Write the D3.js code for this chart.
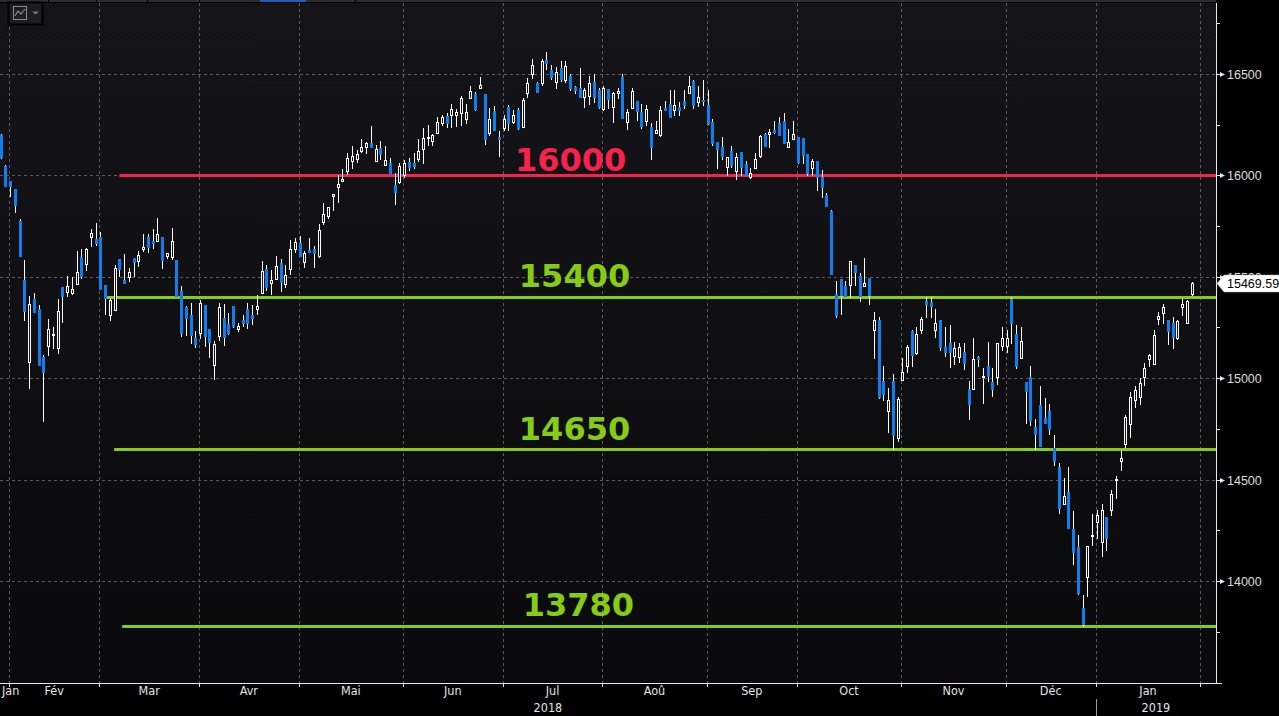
<!DOCTYPE html>
<html>
<head>
<meta charset="utf-8">
<script src="https://cdn.jsdelivr.net/npm/d3@7"></script>
<style>
  html, body { margin: 0; padding: 0; background: #000; overflow: hidden; }
  svg { display: block; }
</style>
</head>
<body>
<svg id="chart" width="1279" height="716"></svg>
<script>
// daily candles, 30 jan 2018 -> 30 jan 2019
const opens = [
  16199,16046,15974,15933,15775,15484,15082,15391,15342,15105,
  15160,15214,15148,15448,15427,15422,15466,15598,15565,15698,
  15686,15696,15460,15312,15336,15589,15484,15499,15594,15579,
  15637,15696,15678,15678,15696,15601,15599,15583,15430,15353,
  15312,15197,15224,15361,15243,15065,15208,15296,15266,15356,
  15244,15287,15340,15312,15342,15419,15539,15471,15488,15567,
  15463,15540,15639,15665,15575,15632,15635,15604,15772,15800,
  15900,15944,15974,16021,16072,16082,16122,16141,16160,16072,
  16137,16051,16060,15953,15969,16000,16065,16063,16082,16132,
  16185,16171,16207,16260,16293,16296,16300,16306,16279,16380,
  16401,16430,16401,16208,16317,16188,16232,16336,16265,16322,
  16240,16408,16500,16457,16454,16569,16520,16459,16528,16470,
  16490,16437,16429,16388,16392,16459,16421,16326,16424,16339,
  16405,16484,16262,16331,16367,16314,16270,16237,16207,16200,
  16334,16352,16322,16336,16367,16405,16465,16363,16372,16347,
  16265,16166,16138,16043,16122,16023,16117,16056,15990,16035,
  16096,16204,16204,16224,16257,16268,16141,16178,16188,16183,
  16105,16038,16071,15994,15903,15824,15414,15489,15455,15460,
  15558,15504,15456,15496,15237,15287,14986,14840,14986,14704,
  14991,15062,15233,15123,15238,15380,15375,15238,15287,15153,
  15172,15110,15103,15131,14946,14946,15106,15005,15060,14980,
  15008,15160,15158,15390,15218,15098,14980,15005,14758,14870,
  14805,14838,14655,14561,14378,14438,14255,14167,13865,14021,
  14220,14293,14194,14314,14350,14500,14593,14675,14774,14890,
  14906,15008,15093,15069,15290,15320,15287,15274,15200,15350,
  15274,15415
]
const highs = [
  16205,16051,15974,15933,15785,15583,15405,15420,15361,15115,
  15293,15254,15391,15448,15504,15499,15627,15637,15644,15737,
  15767,15722,15460,15397,15558,15589,15613,15542,15594,15627,
  15711,15711,15736,15790,15696,15618,15741,15583,15455,15356,
  15371,15232,15386,15361,15243,15184,15372,15366,15320,15356,
  15273,15310,15369,15361,15411,15578,15558,15534,15604,15588,
  15558,15680,15690,15700,15629,15690,15652,15760,15865,15843,
  15907,16000,16030,16110,16144,16125,16180,16165,16242,16149,
  16170,16146,16084,16010,16060,16075,16088,16110,16180,16233,
  16250,16203,16290,16300,16310,16350,16325,16390,16350,16440,
  16410,16485,16401,16330,16340,16220,16300,16345,16320,16330,
  16380,16480,16573,16460,16573,16608,16545,16536,16565,16565,
  16500,16440,16530,16430,16490,16500,16430,16440,16424,16413,
  16430,16500,16326,16430,16367,16350,16345,16257,16270,16340,
  16365,16420,16420,16360,16420,16490,16470,16440,16470,16420,
  16280,16166,16190,16092,16145,16110,16117,16070,16035,16110,
  16200,16210,16230,16270,16290,16310,16230,16270,16188,16183,
  16105,16080,16071,16027,15913,15830,15480,15489,15480,15578,
  15560,15519,15592,15496,15328,15300,15060,14952,15020,14905,
  15100,15165,15240,15250,15300,15400,15400,15340,15287,15250,
  15260,15180,15175,15175,14985,15200,15110,15050,15180,15050,
  15175,15250,15240,15400,15260,15250,14980,15060,14800,14960,
  14900,14873,14720,14580,14510,14560,14345,14227,13930,14172,
  14331,14350,14380,14314,14448,14520,14640,14820,14930,14960,
  15000,15076,15120,15237,15325,15366,15287,15300,15285,15390,
  15385,15475
]
const lows = [
  16085,15949,15900,15821,15604,15287,14952,15328,15065,14790,
  15115,15150,15126,15279,15405,15415,15466,15496,15534,15653,
  15657,15441,15317,15287,15336,15505,15470,15479,15505,15553,
  15627,15624,15644,15678,15545,15594,15586,15407,15209,15213,
  15175,15155,15200,15160,15106,14995,15189,15164,15218,15254,
  15234,15256,15249,15266,15315,15419,15435,15416,15488,15432,
  15450,15512,15620,15604,15550,15624,15550,15600,15760,15790,
  15830,15870,15974,16006,16036,16067,16116,16109,16141,16072,
  16082,16051,16010,15860,15960,15990,16025,16035,16070,16060,
  16150,16150,16207,16250,16240,16240,16245,16250,16260,16380,
  16320,16430,16155,16200,16224,16095,16224,16224,16260,16230,
  16238,16385,16479,16410,16447,16526,16477,16430,16464,16462,
  16420,16408,16385,16338,16350,16360,16330,16320,16331,16265,
  16380,16281,16230,16331,16275,16235,16250,16080,16207,16195,
  16322,16290,16300,16300,16330,16405,16331,16340,16348,16255,
  16150,16035,16080,16000,16040,15980,16000,16002,15985,16035,
  16090,16146,16140,16210,16199,16158,16141,16178,16060,16060,
  16000,16000,15928,15895,15851,15514,15300,15317,15405,15402,
  15460,15382,15456,15366,15100,14900,14890,14736,14650,14690,
  14991,15030,15060,15120,15225,15300,15300,15205,15140,15110,
  15054,15070,15080,15045,14800,14946,15060,14880,14985,14910,
  14970,15140,15130,15175,15050,15098,14780,14770,14650,14667,
  14781,14725,14570,14334,14378,14263,14083,13935,13780,13927,
  14178,14212,14125,14155,14325,14408,14545,14660,14710,14860,
  14875,14967,15060,15069,15265,15270,15168,15150,15195,15310,
  15270,15410
]
const closes = [
  16091,15949,15949,15854,15604,15333,15366,15328,15065,15031,
  15243,15218,15332,15407,15455,15440,15524,15504,15639,15717,
  15668,15441,15394,15386,15542,15540,15470,15525,15575,15608,
  15648,15648,15668,15710,15584,15618,15677,15407,15224,15298,
  15213,15169,15372,15210,15180,15167,15353,15205,15222,15258,
  15258,15271,15274,15296,15356,15527,15451,15484,15553,15476,
  15507,15636,15670,15604,15615,15624,15619,15731,15808,15843,
  15907,15958,15982,16084,16096,16105,16139,16158,16141,16129,
  16106,16076,16010,15920,16046,16062,16040,16046,16122,16183,
  16190,16198,16265,16286,16260,16326,16312,16380,16312,16417,
  16326,16444,16178,16277,16224,16178,16277,16260,16300,16235,
  16372,16454,16544,16413,16564,16556,16487,16511,16474,16539,
  16429,16421,16385,16421,16454,16388,16339,16429,16375,16408,
  16416,16281,16311,16416,16319,16244,16326,16141,16224,16322,
  16322,16290,16347,16322,16347,16440,16347,16388,16368,16260,
  16158,16129,16097,16092,16051,16092,16043,16002,16010,16079,
  16194,16146,16215,16215,16199,16158,16166,16204,16068,16100,
  16013,16071,15994,15944,15851,15514,15312,15410,15405,15578,
  15525,15405,15471,15410,15287,14909,14922,14892,14720,14898,
  15029,15153,15115,15217,15290,15366,15358,15274,15155,15131,
  15131,15148,15155,15073,14873,15094,15094,15011,15011,14945,
  15172,15197,15197,15274,15060,15184,14939,14794,14725,14667,
  14781,14750,14594,14362,14420,14263,14145,13940,13790,14172,
  14227,14326,14350,14214,14429,14505,14605,14810,14906,14942,
  14975,15049,15113,15213,15306,15352,15234,15205,15282,15366,
  15380,15469.59
]
const lastPrice = 15469.59

// month boundaries (candle index of first session) and labels
const monthStarts = [2, 21, 42, 63, 85, 106, 127, 149, 168, 190, 212, 231, 253]
const monthLabels = ['Jan', 'Fév', 'Mar', 'Avr', 'Mai', 'Jun', 'Jul', 'Aoû', 'Sep', 'Oct', 'Nov', 'Déc', 'Jan']
const yearLabels = ['2018', '2019']
const yearStarts = [0, 231]

// y axis
const majorTicks = [14000, 14500, 15000, 15500, 16000, 16500]
const minorTicks = [13750, 14250, 14750, 15250, 15750, 16250, 16750]

// horizontal levels drawn on the chart
const levelValues = [16000, 15400, 14650, 13780]
const levelFrom = [25, 21.8, 23.9, 25.6]      // candle index where each line begins
const levelLabelAt = [108.4, 109.2, 109.2, 110]

// styles
const levelColors = ['#f5224b', '#86cc14', '#86cc14', '#86cc14']
const levelLabelGap = [4, 10, 9, 10]
const upColor = '#ffffff'
const downColor = '#0f7ff0'
const gridColor = '#5c5c60'

const W = 1279, H = 716
const plotL = 0, plotR = 1216, plotT = 3, plotB = 683

const svg = d3.select('#chart')

const x = d3.scaleLinear()
  .domain([0, closes.length - 1])
  .range([0.7, 1191.7])

const y = d3.scaleLinear()
  .domain([13497, 16850])
  .range([plotB, plotT])

const crisp = v => Math.round(v) + 0.5

// backgrounds
svg.append('rect').attr('width', W).attr('height', H).attr('fill', '#000')

const defs = svg.append('defs')
const grad = defs.append('linearGradient')
  .attr('id', 'bg').attr('x1', 0).attr('y1', 0).attr('x2', 0).attr('y2', 1)
grad.append('stop').attr('offset', '0%').attr('stop-color', '#151519')
grad.append('stop').attr('offset', '100%').attr('stop-color', '#0a0a0d')

svg.append('rect')
  .attr('x', plotL).attr('y', plotT)
  .attr('width', plotR - plotL).attr('height', plotB - plotT)
  .attr('fill', 'url(#bg)')

// top strip with tabs
svg.append('rect').attr('x', 0).attr('y', 0).attr('width', plotR).attr('height', 2).attr('fill', '#2c2c31')
svg.append('rect').attr('x', 260).attr('y', 0).attr('width', 46).attr('height', 2).attr('fill', '#1c5fbf')
svg.selectAll('.tabsep')
  .data([48, 96, 147, 199, 355])
  .enter().append('rect')
  .attr('x', d => d).attr('y', 0).attr('width', 1).attr('height', 2).attr('fill', '#000')

// grid
const grid = svg.append('g')
grid.selectAll('.hgrid')
  .data(majorTicks)
  .enter().append('line')
  .attr('x1', plotL).attr('x2', plotR)
  .attr('y1', d => crisp(y(d))).attr('y2', d => crisp(y(d)))
  .attr('stroke', gridColor).attr('stroke-dasharray', '3,3')

grid.selectAll('.vgrid')
  .data(monthStarts)
  .enter().append('line')
  .attr('x1', d => crisp(x(d) - 1)).attr('x2', d => crisp(x(d) - 1))
  .attr('y1', plotT).attr('y2', plotB)
  .attr('stroke', gridColor).attr('stroke-dasharray', '3,3')

// level lines
levelValues.forEach((v, i) => {
  svg.append('line')
    .attr('x1', x(levelFrom[i])).attr('x2', plotR)
    .attr('y1', Math.round(y(v)) + 0.5).attr('y2', Math.round(y(v)) + 0.5)
    .attr('stroke', levelColors[i]).attr('stroke-width', 3)
})

// candles
const candles = svg.append('g')
closes.forEach((c, i) => {
  const o = opens[i]
  const r = Math.round(x(i))
  const up = c >= o
  candles.append('line')
    .attr('x1', r + 0.5).attr('x2', r + 0.5)
    .attr('y1', Math.round(y(highs[i]))).attr('y2', Math.round(y(lows[i])) + 1)
    .attr('stroke', '#fff').attr('stroke-width', 1)
  const top = Math.round(y(Math.max(o, c)))
  const bot = Math.round(y(Math.min(o, c)))
  if (up) {
    candles.append('rect')
      .attr('x', r - 0.5).attr('y', top + 0.5)
      .attr('width', 2).attr('height', Math.max(1, bot - top))
      .attr('fill', '#111115').attr('stroke', upColor).attr('stroke-width', 1)
  } else {
    candles.append('rect')
      .attr('x', r - 1).attr('y', top)
      .attr('width', 3).attr('height', Math.max(2, bot - top + 1))
      .attr('fill', downColor)
  }
})

// level labels
levelValues.forEach((v, i) => {
  svg.append('text')
    .attr('x', x(levelLabelAt[i]))
    .attr('y', Math.round(y(v)) - levelLabelGap[i])
    .attr('fill', levelColors[i])
    .attr('font-family', "'DejaVu Sans', Verdana, sans-serif")
    .attr('font-weight', 'bold')
    .attr('font-size', 32)
    .text(d3.format('d')(v))
})

// right axis
const axisR = svg.append('g')
axisR.append('line')
  .attr('x1', plotR + 0.5).attr('x2', plotR + 0.5)
  .attr('y1', plotT).attr('y2', plotB + 1)
  .attr('stroke', '#e8e8e8')

axisR.selectAll('.minor')
  .data(minorTicks)
  .enter().append('line')
  .attr('x1', plotR).attr('x2', plotR + 4)
  .attr('y1', d => crisp(y(d))).attr('y2', d => crisp(y(d)))
  .attr('stroke', '#e8e8e8')

const major = axisR.selectAll('.major')
  .data(majorTicks)
  .enter().append('g')
  .attr('transform', d => `translate(${plotR},${Math.round(y(d)) + 0.5})`)
major.append('line').attr('x1', 0).attr('x2', 4).attr('stroke', '#e8e8e8')
major.append('path').attr('d', 'M4,-2.5L9,0L4,2.5Z').attr('fill', '#e8e8e8')
major.append('text')
  .attr('x', 11).attr('dy', '0.35em')
  .attr('fill', '#dcdcdc')
  .attr('font-family', "'Liberation Sans', Arial, sans-serif")
  .attr('font-size', 12.5)
  .text(d => d)

// last price flag
const ly = Math.round(y(lastPrice)) + 0.5
const flag = svg.append('g').attr('transform', `translate(${plotR + 1},${ly})`)
flag.append('path')
  .attr('d', 'M0,0L7,-8.5H63V8.5H7Z')
  .attr('fill', '#fff').attr('stroke', '#bbb').attr('stroke-width', 0.5)
flag.append('text')
  .attr('x', 10).attr('dy', '0.36em')
  .attr('fill', '#000')
  .attr('font-family', "'Liberation Sans', Arial, sans-serif")
  .attr('font-size', 12.5)
  .text(d3.format('.2f')(lastPrice))

// bottom axis
const axisB = svg.append('g')
axisB.append('line')
  .attr('x1', 0).attr('x2', plotR + 6)
  .attr('y1', plotB + 0.5).attr('y2', plotB + 0.5)
  .attr('stroke', '#e8e8e8')
axisB.selectAll('.xtick')
  .data(monthStarts)
  .enter().append('line')
  .attr('x1', d => crisp(x(d) - 1)).attr('x2', d => crisp(x(d) - 1))
  .attr('y1', plotB).attr('y2', plotB + 4)
  .attr('stroke', '#e8e8e8')

const monthCentres = monthLabels.map((m, i) => {
  if (i === 0) return null
  return (x(monthStarts[i - 1]) + x(monthStarts[i])) / 2 - 1
})
axisB.selectAll('.mlabel')
  .data(monthLabels)
  .enter().append('text')
  .attr('x', (d, i) => i === 0 ? 2 : monthCentres[i])
  .attr('y', 695)
  .attr('text-anchor', (d, i) => i === 0 ? 'start' : 'middle')
  .attr('fill', '#e4e4e4')
  .attr('font-family', "'DejaVu Sans Condensed', 'Liberation Sans Narrow', Arial, sans-serif")
  .attr('font-stretch', 'condensed')
  .attr('font-size', 12.5)
  .text(d => d)

const yearEnds = [x(yearStarts[1]) - 1, plotR]
axisB.selectAll('.ylabel')
  .data(yearLabels)
  .enter().append('text')
  .attr('x', (d, i) => ((i === 0 ? 0 : x(yearStarts[i]) - 1) + yearEnds[i]) / 2)
  .attr('y', 712)
  .attr('text-anchor', 'middle')
  .attr('fill', '#e4e4e4')
  .attr('font-family', "'DejaVu Sans Condensed', 'Liberation Sans Narrow', Arial, sans-serif")
  .attr('font-stretch', 'condensed')
  .attr('font-size', 12.5)
  .text(d => d)
axisB.append('line')
  .attr('x1', crisp(x(yearStarts[1]) - 1)).attr('x2', crisp(x(yearStarts[1]) - 1))
  .attr('y1', 699).attr('y2', 716)
  .attr('stroke', '#9a9a9a')

// chart type button, top left
const btn = svg.append('g').attr('transform', 'translate(8,2)')
btn.append('rect').attr('x', 0.5).attr('y', 0.5).attr('width', 34).attr('height', 22)
  .attr('fill', '#1d1d21').attr('stroke', '#000').attr('stroke-width', 2)
btn.append('rect').attr('x', 5.5).attr('y', 4.5).attr('width', 13).attr('height', 13)
  .attr('fill', 'none').attr('stroke', '#8a8a8a')
btn.append('path').attr('d', 'M7,14L10,9L13,12L17,7')
  .attr('fill', 'none').attr('stroke', '#8a8a8a').attr('stroke-width', 1.2)
btn.append('path').attr('d', 'M24,9.5H31L27.5,12.5Z').attr('fill', '#7a7a7a')
</script>
</body>
</html>
